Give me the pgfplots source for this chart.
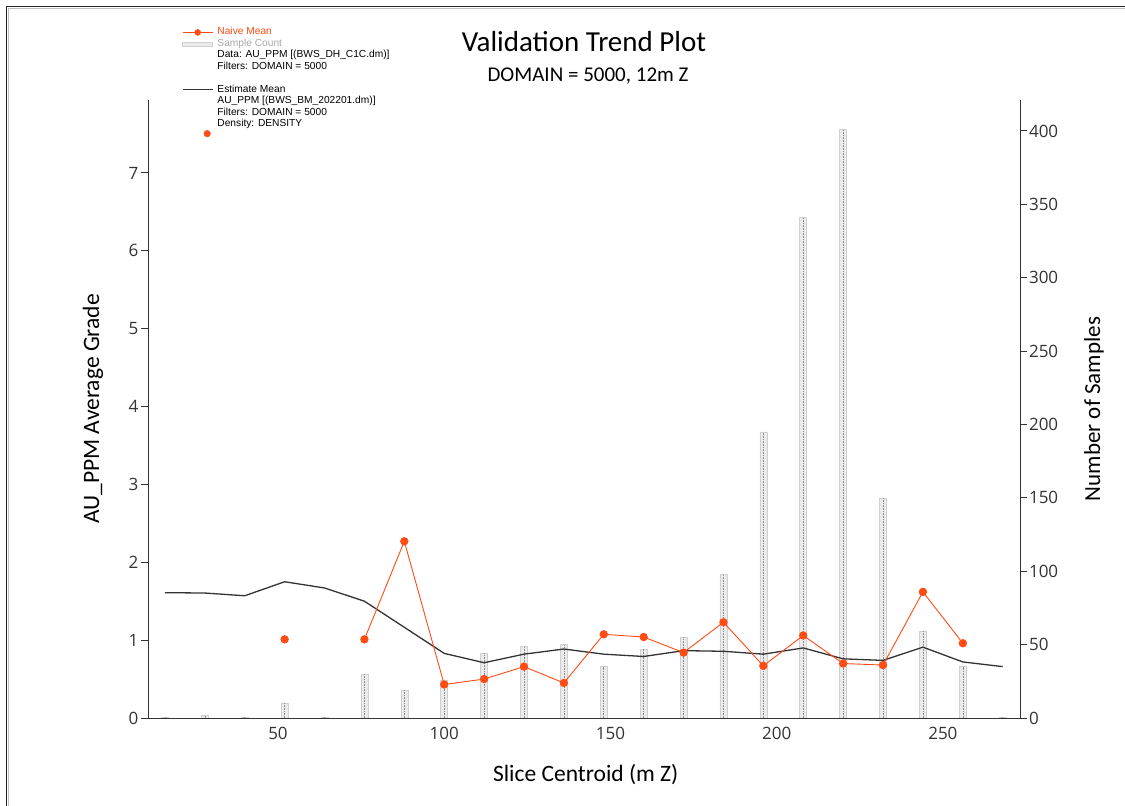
\documentclass[border=0pt]{standalone}
\usepackage{fontspec}
\setmainfont{Carlito}
\newfontfamily\legfont{Liberation Sans}
\newfontfamily\tickfont{Open Sans}
\usepackage{pgfplots}
\usepackage{pgfplotstable}
\pgfplotsset{compat=1.18}

\definecolor{naive}{HTML}{FF4B14}
\definecolor{est}{HTML}{333333}
\definecolor{barfill}{HTML}{EBEBEB}
\definecolor{baredge}{HTML}{D0D0D0}
\definecolor{axisc}{HTML}{333333}

\pgfplotstableread{
x n
16 0.6
28 2
40 0.6
52 10
64 0.6
76 30
88 19
100 26
112 44
124 49
136 50
148 35
160 47
172 55
184 98
196 195
208 341
220 401
232 150
244 59
256 35
268 0.6
}\counts

\pgfplotstableread{
x e
16 1.61
28 1.605
40 1.57
52 1.75
64 1.67
76 1.50
88 1.165
100 0.83
112 0.71
124 0.82
136 0.886
148 0.82
160 0.79
172 0.865
184 0.857
196 0.82
208 0.90
220 0.76
232 0.74
244 0.91
256 0.72
268 0.66
}\estm

\pgfplotstableread{
x m
52 1.01
64 nan
76 1.01
88 2.27
100 0.43
112 0.50
124 0.66
136 0.45
148 1.075
160 1.04
172 0.84
184 1.23
196 0.67
208 1.06
220 0.70
232 0.68
244 1.62
256 0.96
}\naivet

\pgfplotsset{
  common/.style={
    scale only axis, width=872pt, height=618pt,
    at={(148pt,-718pt)}, anchor=south west,
    xmin=10.9, xmax=273.2,
    axis line style={draw=axisc, line width=1pt, -},
    tick style={draw=axisc, line width=1pt},
    major tick length=7pt,
    tick align=outside,
    ticklabel style={font=\tickfont\fontsize{17}{17}\selectfont, text=axisc},
    /pgf/number format/assume math mode=true,
  }
}

\begin{document}
\begin{tikzpicture}
% frame
\draw[line width=1.5pt, black!85] (6.5pt,-806pt) -- (6.5pt,-6.5pt) -- (1125pt,-6.5pt);
\draw[line width=1pt, black!25] (8.5pt,-806pt) -- (8.5pt,-8.5pt) -- (1125pt,-8.5pt);

% right axis: sample counts
\begin{axis}[common,
  ymin=0, ymax=421.1,
  axis y line*=right, axis x line=none,
  ytick={0,50,...,400},
  yticklabel style={xshift=-1.5pt},
  ylabel={Number of Samples},
  every axis y label/.style={at={(axis description cs:1.0849,0.5)}, anchor=center, rotate=90, font=\fontsize{23}{23}\selectfont},
]
\addplot[ybar, bar width=7pt, fill=barfill, draw=baredge, line width=0.6pt] table[x=x,y=n]{\counts};
\addplot[ycomb, densely dotted, black!45, line width=0.6pt, mark=none] table[x=x,y=n]{\counts};
\end{axis}

% left axis: grades
\begin{axis}[common,
  ymin=0, ymax=7.937,
  axis y line*=left, axis x line*=bottom,
  ytick={0,1,...,7},
  xtick={50,100,...,250},
  x tick style={draw=none},
  xticklabel style={yshift=1pt},
  yticklabel style={xshift=1pt},
  xlabel={Slice Centroid (m Z)},
  ylabel={AU\_PPM Average Grade},
  every axis x label/.style={at={(axis description cs:0.502,-0.0922)}, anchor=center, font=\fontsize{23.5}{23.5}\selectfont},
  every axis y label/.style={at={(axis description cs:-0.0631,0.5)}, anchor=center, rotate=90, font=\fontsize{23.5}{23.5}\selectfont},
  legend style={at={(axis description cs:0.039,1.119)}, anchor=north west,
    draw=none, fill=none, inner sep=0pt, row sep=0pt,
    font=\legfont\fontsize{10.2}{10.2}\selectfont,
    nodes={inner sep=1.25pt, text height=7pt, text depth=2pt},
    /tikz/every odd column/.append style={column sep=3pt}},
  legend cell align=left,
]
\addplot[est, line width=1.3pt, forget plot] table[x=x,y=e]{\estm};
\addplot[naive, line width=0.9pt, mark=*, mark size=3.7pt, unbounded coords=jump, forget plot] table[x=x,y=m]{\naivet};

\addlegendimage{legend image code/.code={\draw[naive, line width=0.9pt] (0pt,0pt) -- (30pt,0pt); \fill[naive] (15pt,0pt) circle (3pt);}}
\addlegendentry{\textcolor{naive}{Naive Mean}}
\addlegendimage{legend image code/.code={\draw[fill=barfill, draw=baredge, line width=0.6pt] (0pt,-2pt) rectangle (30pt,2pt);}}
\addlegendentry{\textcolor{black!35}{Sample Count}}
\addlegendimage{empty legend}
\addlegendentry{Data: AU\_PPM [(BWS\_DH\_C1C.dm)]}
\addlegendimage{empty legend}
\addlegendentry{Filters: DOMAIN = 5000}
\addlegendimage{empty legend}
\addlegendentry{}
\addlegendimage{legend image code/.code={\draw[est, line width=1pt] (0pt,0pt) -- (30pt,0pt);}}
\addlegendentry{Estimate Mean}
\addlegendimage{empty legend}
\addlegendentry{AU\_PPM [(BWS\_BM\_202201.dm)]}
\addlegendimage{empty legend}
\addlegendentry{Filters: DOMAIN = 5000}
\addlegendimage{empty legend}
\addlegendentry{Density: DENSITY}
\addlegendimage{legend image code/.code={\fill[naive] (24.5pt,3pt) circle (3.3pt);}}
\addlegendentry{}
\end{axis}

\node[font=\fontsize{29}{29}\selectfont] at (584pt,-42pt) {Validation Trend Plot};
\node[font=\fontsize{21}{21}\selectfont] at (588pt,-76pt) {DOMAIN = 5000, 12m Z};

\pgfresetboundingbox
\path[use as bounding box] (0pt,0pt) rectangle (1125pt,-806pt);
\end{tikzpicture}
\end{document}
